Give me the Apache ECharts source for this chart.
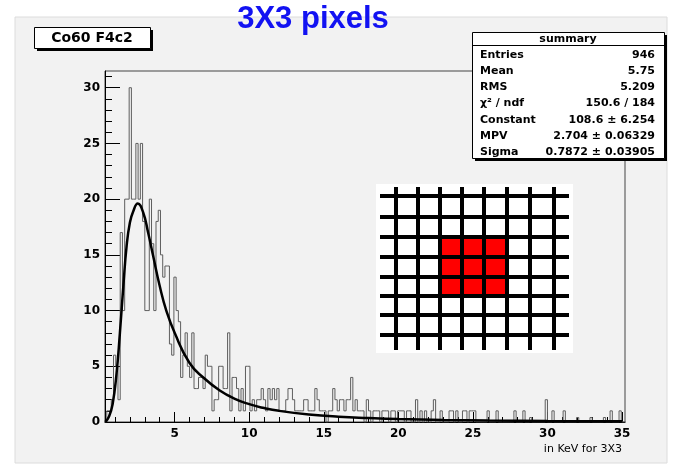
<!DOCTYPE html>
<html>
<head>
<meta charset="utf-8">
<script src="https://cdn.jsdelivr.net/npm/echarts@6/dist/echarts.min.js"></script>
<style>
  html, body { margin: 0; padding: 0; background: #fff; }
  #main { width: 677px; height: 469px; }
</style>
</head>
<body>
<div id="main"></div>
<script>
// histogram bins (left edge of first bin, bin width) and counts
const binStart = 0.3;
const binWidth = 0.15;
const counts = [
  0, 1, 1, 2, 6, 5, 2, 17, 10, 20, 20, 30, 20, 20, 25, 20, 25, 18, 10, 10,
  20, 16, 10, 18, 19, 15, 13, 14, 14, 7, 6, 13, 10, 9, 4, 6, 8, 5, 4, 8,
  3, 3, 4, 4, 3, 6, 5, 5, 1, 2, 2, 5, 5, 3, 3, 8, 1, 4, 4, 3,
  1, 3, 1, 5, 5, 1, 2, 1, 2, 2, 3, 2, 1, 3, 2, 3, 2, 3, 1, 1,
  1, 2, 3, 3, 2, 1, 1, 1, 1, 2, 2, 1, 1, 1, 3, 2, 1, 1, 1, 0,
  1, 1, 3, 2, 1, 2, 2, 1, 2, 2, 4, 1, 2, 1, 1, 1, 0, 2, 1, 0,
  1, 1, 1, 0, 1, 1, 1, 0, 1, 1, 0, 1, 1, 1, 0, 1, 1, 0, 0, 2,
  0, 1, 0, 1, 0, 0, 1, 2, 0, 0, 1, 0, 0, 0, 1, 1, 0, 1, 0, 0,
  1, 1, 0, 1, 1, 1, 0, 0, 0, 0, 0, 1, 0, 0, 0, 1, 0, 0, 0, 0,
  0, 0, 0, 1, 0, 0, 0, 1, 0, 0, 0.4, 0, 0, 0, 0, 0, 0, 2, 0, 0,
  1, 0, 0, 0, 0, 1, 0, 0, 0, 0, 0, 0.4, 0, 0, 0, 0, 0, 0.4, 0, 0,
  0, 0, 0, 0.4, 0, 0, 1, 0, 0, 0, 1, 0, 0
];

// landau fit curve
const fitX = [0.35, 0.6, 0.84, 1.1, 1.33, 1.56, 1.78, 2.0, 2.22, 2.53, 2.89, 3.22, 3.56, 4.0, 4.44, 5.0,
  6, 7, 8, 9, 10, 11, 12, 14, 16, 18, 20, 23, 26, 30, 35];
const fitY = [0, 0.5, 1.6, 4.3, 8.0, 12.2, 15.8, 17.9, 18.9, 19.6, 18.8, 17.0, 14.9, 12.2, 10.0, 8.0,
  5.3, 3.9, 2.85, 2.1, 1.6, 1.25, 1.0, 0.68, 0.48, 0.36, 0.27, 0.19, 0.14, 0.1, 0.07];

const xMajor = [5, 10, 15, 20, 25, 30, 35];
const xMinor = [1, 2, 3, 4, 6, 7, 8, 9, 11, 12, 13, 14, 16, 17, 18, 19, 21, 22, 23, 24, 26, 27, 28, 29, 31, 32, 33, 34];
const yMajor = [0, 5, 10, 15, 20, 25, 30];
const yMinor = [1, 2, 3, 4, 6, 7, 8, 9, 11, 12, 13, 14, 16, 17, 18, 19, 21, 22, 23, 24, 26, 27, 28, 29, 31];

const statLabels = ['Entries', 'Mean', 'RMS', 'χ² / ndf', 'Constant', 'MPV', 'Sigma'];
const statValues = ['946', '5.75', '5.209', '150.6 / 184', '108.6 ± 6.254', '2.704 ± 0.06329', '0.7872 ± 0.03905'];

const chart = echarts.init(document.getElementById('main'));

// step outline of the histogram
const histData = counts.map((c, i) => [binStart + i * binWidth, c]);
histData.push([binStart + counts.length * binWidth, 0]);

const fitData = fitX.map((x, i) => [x, fitY[i]]);

const font = 'DejaVu Sans, Verdana, sans-serif';
const fontArial = 'Liberation Sans, Arial, sans-serif';

// graphic elements: pad, title box, stats box, pixel sketch
const g = [];
g.push({ type: 'rect', z: -10, shape: { x: 15, y: 17, width: 652, height: 446 },
  style: { fill: '#f2f2f2', stroke: '#dcdcdc', lineWidth: 1 } });

// title box
g.push({ type: 'rect', z: 50, shape: { x: 37, y: 30, width: 116, height: 21 }, style: { fill: '#000' } });
g.push({ type: 'rect', z: 51, shape: { x: 34.5, y: 27.5, width: 116, height: 21 }, style: { fill: '#fff', stroke: '#000', lineWidth: 1 } });
g.push({ type: 'text', z: 52, style: { text: 'Co60 F4c2', x: 92, y: 38.5, align: 'center', verticalAlign: 'middle',
  font: 'bold 14px ' + font, fill: '#000' } });

// big blue heading
g.push({ type: 'text', z: 52, style: { text: '3X3 pixels', x: 313, y: 19.5, align: 'center', verticalAlign: 'middle',
  font: 'bold 31px ' + fontArial, fill: '#1212f2' } });

// stats box
g.push({ type: 'rect', z: 50, shape: { x: 475, y: 35, width: 192, height: 126 }, style: { fill: '#000' } });
g.push({ type: 'rect', z: 51, shape: { x: 472.5, y: 32.5, width: 192, height: 126 }, style: { fill: '#fff', stroke: '#000', lineWidth: 1 } });
g.push({ type: 'line', z: 52, shape: { x1: 472.5, y1: 45.5, x2: 664.5, y2: 45.5 }, style: { stroke: '#000', lineWidth: 1 } });
g.push({ type: 'text', z: 52, style: { text: 'summary', x: 568, y: 39, align: 'center', verticalAlign: 'middle',
  font: 'bold 11px ' + font, fill: '#000' } });
statLabels.forEach((lab, i) => {
  const y = 55 + i * 16.2;
  g.push({ type: 'text', z: 52, style: { text: lab, x: 480, y: y, align: 'left', verticalAlign: 'middle',
    font: 'bold 11px ' + font, fill: '#000' } });
  g.push({ type: 'text', z: 52, style: { text: statValues[i], x: 655, y: y, align: 'right', verticalAlign: 'middle',
    font: 'bold 11px ' + font, fill: '#000' } });
});

// pixel grid sketch
const vLines = [396, 418, 440, 462, 484, 507, 530, 554];
const hLines = [196, 217, 237, 257, 277, 296, 315, 335];
g.push({ type: 'rect', z: 50, shape: { x: 376, y: 184, width: 197, height: 169 }, style: { fill: '#fff' } });
g.push({ type: 'rect', z: 51, shape: { x: 440, y: 237, width: 67, height: 59 }, style: { fill: '#ff0000' } });
vLines.forEach(x => g.push({ type: 'line', z: 52, shape: { x1: x, y1: 187, x2: x, y2: 350 }, style: { stroke: '#000', lineWidth: 4 } }));
hLines.forEach(y => g.push({ type: 'line', z: 52, shape: { x1: 380, y1: y, x2: 569, y2: y }, style: { stroke: '#000', lineWidth: 4 } }));

// axis title
g.push({ type: 'text', z: 52, style: { text: 'in KeV for 3X3', x: 622, y: 449, align: 'right', verticalAlign: 'middle',
  font: '11px ' + font, fill: '#000' } });

const tickLabel = { color: '#000', fontFamily: font, fontWeight: 'bold', fontSize: 12 };

chart.setOption({
  backgroundColor: '#fff',
  animation: false,
  grid: { left: 105, top: 71, right: 52, bottom: 47, show: true, backgroundColor: '#f2f2f2', borderColor: '#444', borderWidth: 1 },
  xAxis: [
    { type: 'value', min: 0.33, max: 35.2,
      axisLine: { lineStyle: { color: '#000', width: 1 } },
      axisTick: { inside: true, length: 10, customValues: xMajor, lineStyle: { color: '#000' } },
      axisLabel: { customValues: xMajor, margin: 6, ...tickLabel },
      splitLine: { show: false } },
    { type: 'value', min: 0.33, max: 35.2, position: 'bottom',
      axisLine: { show: false },
      axisTick: { inside: true, length: 5, customValues: xMinor, lineStyle: { color: '#000' } },
      axisLabel: { show: false }, splitLine: { show: false } }
  ],
  yAxis: [
    { type: 'value', min: 0, max: 31.5,
      axisLine: { show: true, lineStyle: { color: '#000', width: 1 } },
      axisTick: { show: true, inside: true, length: 15, customValues: yMajor, lineStyle: { color: '#000' } },
      axisLabel: { customValues: yMajor, margin: 5, ...tickLabel },
      splitLine: { show: false } },
    { type: 'value', min: 0, max: 31.5, position: 'left',
      axisLine: { show: false },
      axisTick: { show: true, inside: true, length: 7, customValues: yMinor, lineStyle: { color: '#000' } },
      axisLabel: { show: false }, splitLine: { show: false } }
  ],
  series: [
    { name: 'hist', type: 'line', step: 'end', data: histData, showSymbol: false,
      lineStyle: { color: '#5e5e5e', width: 1 }, z: 3 },
    { name: 'landau', type: 'line', smooth: true, data: fitData, showSymbol: false,
      lineStyle: { color: '#000', width: 2.5 }, z: 4 }
  ],
  graphic: g
});
</script>
</body>
</html>
